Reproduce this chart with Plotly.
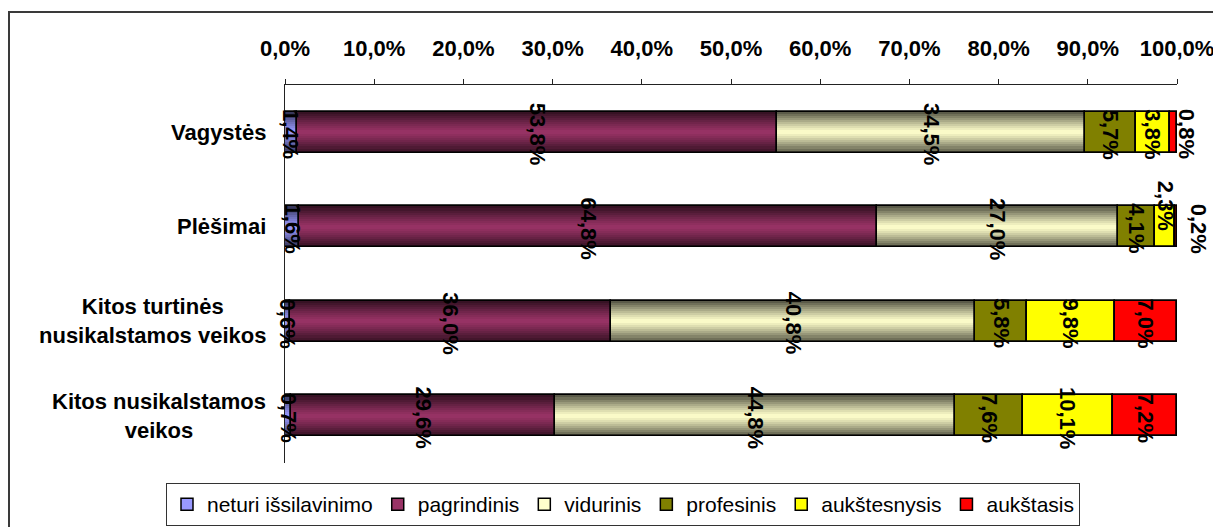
import numpy as np
import plotly.graph_objects as go

# data (percent of each crime group)
categories = ["Vagystės", "Plėšimai", "Kitos turtinės nusikalstamos veikos", "Kitos nusikalstamos veikos"]
category_labels = ["Vagystės", "Plėšimai", "Kitos turtinės<br>nusikalstamos veikos", "Kitos nusikalstamos<br>veikos"]

series_names = ["neturi išsilavinimo", "pagrindinis", "vidurinis", "profesinis", "aukštesnysis", "aukštasis"]
neturi = [1.4, 1.6, 0.6, 0.7]
pagrindinis = [53.8, 64.8, 36.0, 29.6]
vidurinis = [34.5, 27.0, 40.8, 44.8]
profesinis = [5.7, 4.1, 5.8, 7.6]
aukstesnysis = [3.8, 2.3, 9.8, 10.1]
aukstasis = [0.8, 0.2, 7.0, 7.2]

# layout constants (px, in reference picture coords); page body adds 8px margin
OFF = 8
W, H = 1221 - OFF, 527 - OFF
L, R, T, B = 285 - OFF, 44, 85 - OFF, 64
PW, PH = W - L - R, H - T - B

colors = ["#9999FF", "#993366", "#FFFFCC", "#808000", "#FFFF00", "#FF0000"]
shaded = [True, True, True, False, False, False]
BAR_W = 0.43
FONT = "Liberation Sans, Arial, sans-serif"


def px_x(px):
    return (px - OFF - L) / PW


def px_y(py):
    return (H - B - (py - OFF)) / PH


def blend(hexcol, d):
    h = hexcol.lstrip("#")
    r, g, b = (int(h[i:i + 2], 16) for i in (0, 2, 4))
    return "rgb(%d,%d,%d)" % (r * (1 - d), g * (1 - d), b * (1 - d))


vals = np.array([neturi, pagrindinis, vidurinis, profesinis, aukstesnysis, aukstasis]) / 100.0
bases = np.vstack([np.zeros(len(categories)), np.cumsum(vals, axis=0)[:-1]])

fig = go.Figure()

# main bars (also give the legend)
for i, name in enumerate(series_names):
    fig.add_trace(go.Bar(
        y=categories, x=vals[i], base=bases[i], orientation="h", name=name,
        width=BAR_W, marker=dict(color=colors[i], line=dict(color="black", width=1.5)),
        hovertemplate="%{y}<br>" + name + ": %{x:.1%}<extra></extra>",
    ))

# fake 3d shading: darker strips towards top and bottom edges
half = BAR_W / 2
n = 10
for i in range(len(series_names)):
    if not shaded[i]:
        continue
    for k in range(n):
        depth = half * (1 - k / n)
        s_mid = (n - k - 0.5) / n
        dark = 0.68 * (1 - s_mid) ** 1.2
        col = blend(colors[i], dark)
        for off in (-half, half - depth):
            fig.add_trace(go.Bar(
                y=categories, x=vals[i], base=bases[i], orientation="h",
                width=depth, offset=off, marker=dict(color=col, line=dict(width=0)),
                showlegend=False, hoverinfo="skip",
            ))

# outlines back on top
for i in range(len(series_names)):
    fig.add_trace(go.Bar(
        y=categories, x=vals[i], base=bases[i], orientation="h", width=BAR_W,
        marker=dict(color="rgba(0,0,0,0)", line=dict(color="black", width=1.5)),
        showlegend=False, hoverinfo="skip",
    ))

# data labels (rotated, like the original)
label_shift = {(0, 5): (13, 0), (1, 4): (0, 23), (1, 5): (22, 0)}
annotations = []
for i in range(len(series_names)):
    for j, cat in enumerate(categories):
        v = vals[i][j]
        dx, dy = label_shift.get((j, i), (0, 0))
        annotations.append(dict(
            x=bases[i][j] + v / 2, y=cat, xref="x", yref="y",
            text=f"{v * 100:.1f}%".replace(".", ","), showarrow=False,
            textangle=90, xshift=dx, yshift=dy - 2,
            font=dict(family=FONT, size=22, color="black", weight="bold"),
        ))

# category labels, centred multi-line like Excel
for j, cat in enumerate(categories):
    annotations.append(dict(
        x=0, y=cat, xref="paper", yref="y", xanchor="right", xshift=-17,
        text=category_labels[j], showarrow=False, align="center",
        font=dict(family=FONT, size=22, color="black", weight="bold"),
    ))

fig.update_layout(
    width=W, height=H,
    margin=dict(l=L, r=R, t=T, b=B, autoexpand=False),
    barmode="overlay",
    bargap=0,
    separators=", ",
    plot_bgcolor="white",
    paper_bgcolor="white",
    font=dict(family=FONT, color="black"),
    annotations=annotations,
    xaxis=dict(
        side="top", range=[0, 1], dtick=0.1, tickformat=".1%",
        showgrid=False, zeroline=False, showline=True, linecolor="#222", linewidth=1,
        ticks="outside", ticklen=5, tickcolor="#222", ticklabelstandoff=14,
        tickfont=dict(family=FONT, size=22, color="black", weight="bold"),
    ),
    yaxis=dict(
        type="category", categoryorder="array", categoryarray=categories,
        range=[len(categories) - 0.5, -0.5],
        showgrid=False, zeroline=False, showline=True, linecolor="#222", linewidth=1,
        showticklabels=False, ticks="",
    ),
    legend=dict(
        orientation="h", x=px_x(166), y=px_y(483), xanchor="left", yanchor="top",
        bordercolor="#333", borderwidth=1, bgcolor="white",
        font=dict(family=FONT, size=21, color="black"),
        traceorder="normal", itemwidth=30,
    ),
    shapes=[dict(
        type="rect", xref="paper", yref="paper",
        x0=px_x(9), y0=px_y(12), x1=px_x(1240), y1=px_y(550),
        line=dict(color="#3a3a3a", width=2), fillcolor="rgba(0,0,0,0)", layer="below",
    )],
)

fig.write_html("out.html")
